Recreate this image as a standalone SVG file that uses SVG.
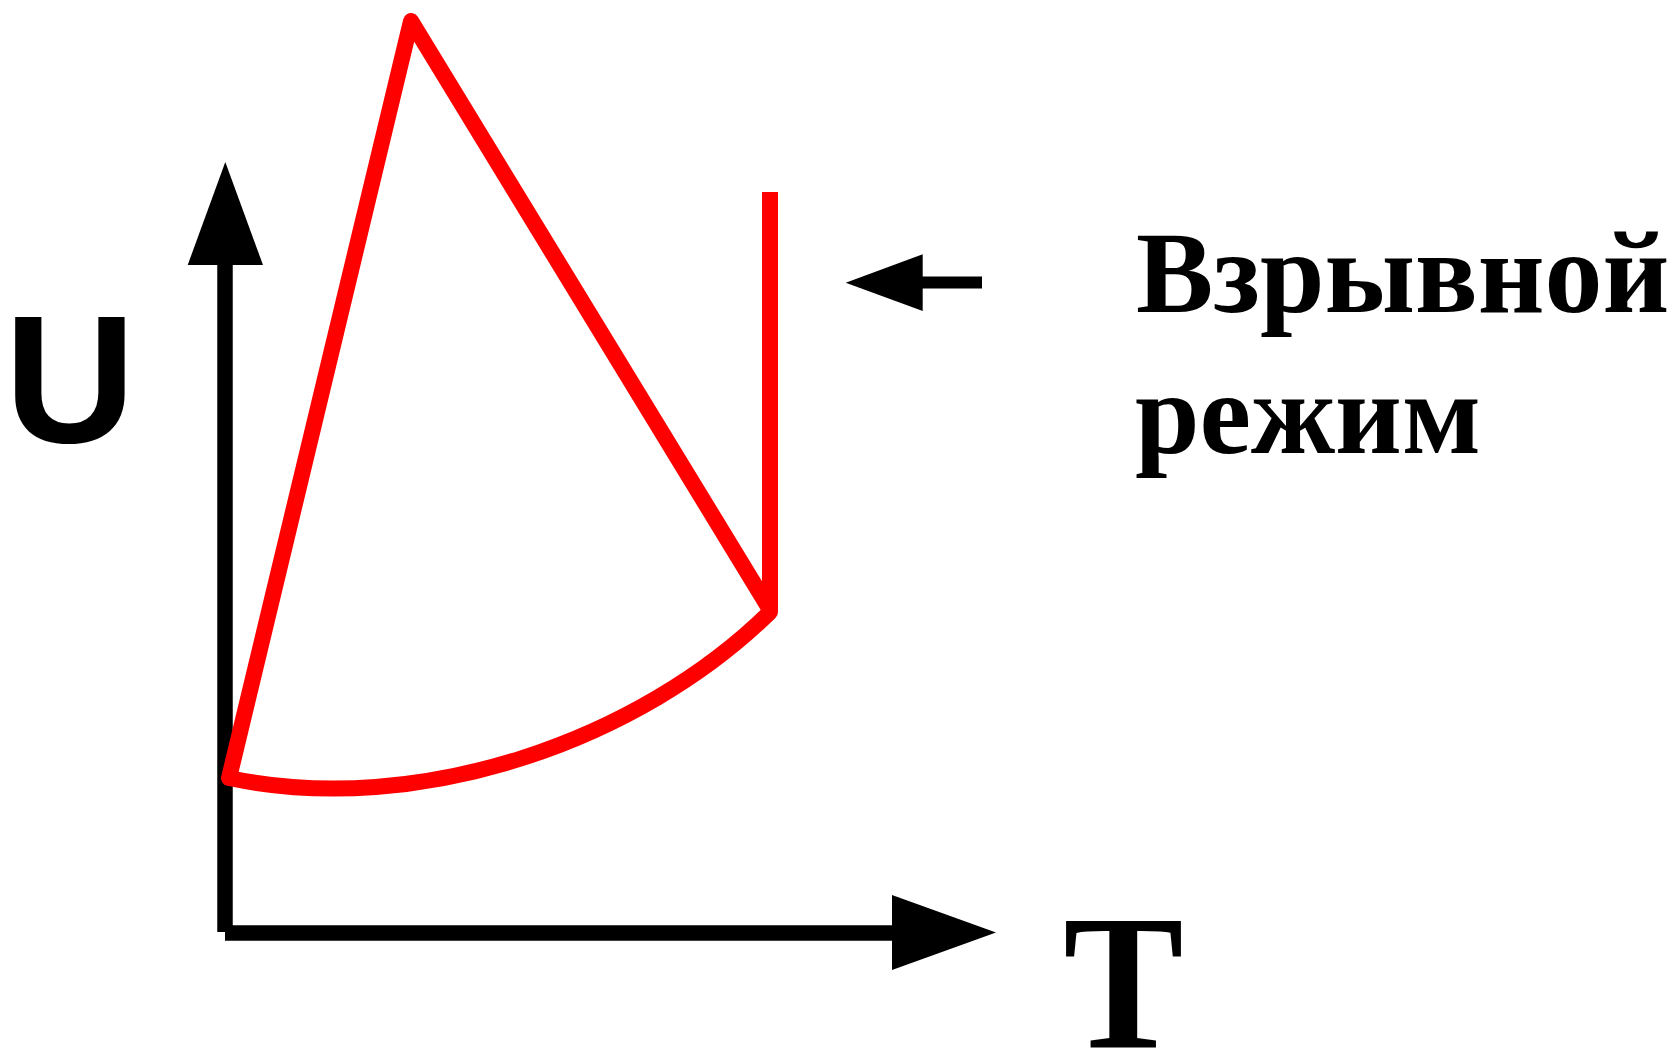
<svg xmlns="http://www.w3.org/2000/svg" width="1678" height="1051" viewBox="0 0 1678 1051">
  <style>
    .axis { stroke: #000; stroke-width: 15.5; fill: none; stroke-linecap: butt; }
    .head { fill: #000; stroke: none; }
    .curve { stroke: #ff0000; stroke-width: 16; fill: none; stroke-linejoin: round; stroke-linecap: butt; }
    .lbl { fill: #000; }
  </style>
  <rect width="1678" height="1051" fill="#fff"/>
  <g id="connectors">
    <g id="u-axis">
      <line class="axis" x1="225" y1="264" x2="225" y2="932"/>
      <polygon class="head" points="225.3,162 263,265 187.7,265"/>
    </g>
    <g id="t-axis">
      <line class="axis" x1="225" y1="933" x2="893" y2="933"/>
      <polygon class="head" points="892,895 996,932.5 892,970"/>
    </g>
    <g id="pointer-arrow">
      <line x1="921" y1="282.5" x2="982" y2="282.5" stroke="#000" stroke-width="12"/>
      <polygon class="head" points="845.7,282.7 922.7,254.3 922.7,311"/>
    </g>
  </g>
  <g id="red-curve">
    <path class="curve" d="M 770,192 L 770,612 C 640,740 420,818 229,778 L 411,21 L 769,608"/>
  </g>
  <g id="label-U">
    <text class="lbl" x="70" y="442" font-family="Liberation Sans" font-weight="bold" font-size="182" text-anchor="middle">U</text>
  </g>
  <g id="label-T">
    <text class="lbl" transform="translate(1123.5,1047) scale(0.94,1)" x="0" y="0" font-family="Liberation Serif" font-weight="bold" font-size="192" text-anchor="middle">T</text>
  </g>
  <g id="label-mode">
    <text class="lbl" x="1136" y="312" font-family="Liberation Serif" font-weight="bold" font-size="116">Взрывной</text>
    <text class="lbl" x="1135" y="453" font-family="Liberation Serif" font-weight="bold" font-size="116">режим</text>
  </g>
</svg>
